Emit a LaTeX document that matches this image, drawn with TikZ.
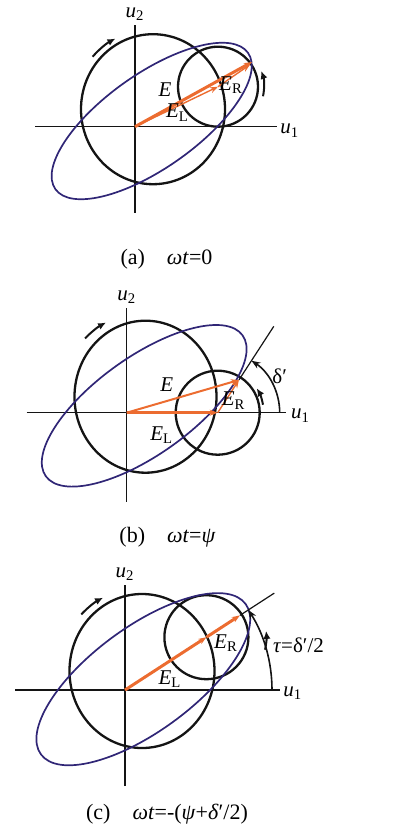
\documentclass[tikz,border=0pt]{standalone}
\usepackage{fontspec}
\setmainfont{Liberation Serif}
\usetikzlibrary{arrows.meta,positioning,calc}
\definecolor{navy}{RGB}{48,38,118}
\definecolor{tangerine}{RGB}{236,108,48}
\definecolor{ink}{RGB}{20,20,20}
\tikzset{
  >={Stealth[length=4pt,width=3pt]},
  axis line/.style={draw=ink,line width=0.75pt},
  ring/.style={draw=ink,line width=1.15pt},
  trace/.style={draw=navy,line width=0.85pt},
  vec/.style={->,draw=tangerine,line width=#1},
  vec/.default=0.7pt,
  spin/.style={-{Latex[length=4pt,width=3.6pt]},draw=ink,line width=1pt},
  sweep/.style={-{Stealth[length=4.5pt,width=3.4pt]},draw=ink,line width=0.8pt},
  tag/.style={font=\fontsize{10.5}{12}\selectfont,inner sep=0pt},
  subcap/.style={font=\fontsize{11}{13}\selectfont,inner sep=0pt},
}

\begin{document}
\begin{tikzpicture}[x=0.5pt,y=0.5pt]
  \useasboundingbox (0,0) rectangle (397,-829);

  % (a) omega t = 0
  \begin{scope}[shift={(135,-126.7)}]
    \coordinate (Oa) at (0,0);
    \coordinate (La) at (83,40);
    \coordinate (Pa) at (117,64.7);
    \coordinate (Ra) at (115,62);
    \draw[axis line] (-100,0) coordinate (a-w) -- (142,0) coordinate (a-e);
    \draw[axis line] (0,-86) coordinate (a-s) -- (0,102) coordinate (a-n);
    \node[tag,anchor=west] (a-u1) at ($(a-e)+(3,-4)$) {\textit{u}\textsubscript{1}};
    \node[tag,above=2pt of a-n] (a-u2) {\textit{u}\textsubscript{2}};
    \draw[ring] (18,17.5) ellipse[x radius=72,y radius=75];
    \draw[ring] (La) circle[radius=40];
    \draw[trace,rotate around={35.3:(16.7,5.7)}] (16.7,5.7) ellipse[x radius=118,y radius=47];
    \draw[vec=1.5pt] (Oa) -- (Pa);
    \draw[vec] (Oa) -- (La);
    \draw[vec] (La) -- (Ra);
    \draw[spin] ($(18,17.5)+(139:80)$) arc[start angle=139,end angle=118,radius=80];
    \draw[spin] ($(La)+(-12:46)$) arc[start angle=-12,end angle=20,radius=46];
    \node[tag] (a-E) at (30,36.7) {\textit{E}};
    \node[tag] (a-EL) at (42.5,14) {\textit{E}\textsubscript{L}};
    \node[tag] (a-ER) at (96,41.5) {\textit{E}\textsubscript{R}};
  \end{scope}

  % (b) omega t = psi
  \begin{scope}[shift={(126.7,-412.7)}]
    \coordinate (Ob) at (0,0);
    \coordinate (Lb) at (91,0);
    \coordinate (Pb) at (112.2,32.7);
    \coordinate (Db) at (147.1,86.4);
    \draw[axis line] (-100,0) coordinate (b-w) -- (159,0) coordinate (b-e);
    \draw[axis line] (0,-89) coordinate (b-s) -- (0,105) coordinate (b-n);
    \node[tag,anchor=west] (b-u1) at ($(b-e)+(5,-3)$) {\textit{u}\textsubscript{1}};
    \node[tag,above=2pt of b-n] (b-u2) {\textit{u}\textsubscript{2}};
    \draw[ring] (18.8,16) ellipse[x radius=71,y radius=76];
    \draw[ring] (Lb) circle[radius=42];
    \draw[trace,rotate around={35.6:(17.5,6.9)}] (17.5,6.9) ellipse[x radius=121,y radius=48.7];
    \draw[vec=1pt] (Ob) -- (Pb);
    \draw[vec=1.6pt] (Ob) -- (Lb);
    \draw[vec] (Lb) -- (Pb);
    \draw[axis line,line width=0.6pt] (Pb) -- (Db);
    \draw[sweep] ($(Lb)+(0:62)$) arc[start angle=0,end angle=57,radius=62];
    \draw[spin] ($(18.8,16)+(136:84)$) arc[start angle=136,end angle=118,radius=84];
    \draw[spin] ($(Lb)+(10:46)$) arc[start angle=10,end angle=32,radius=46];
    \node[tag] (b-E) at (40,27.7) {\textit{E}};
    \node[tag] (b-EL) at (35,-22.3) {\textit{E}\textsubscript{L}};
    \node[tag] (b-ER) at (107,12) {\textit{E}\textsubscript{R}};
    \node[tag] (b-d) at (153,36) {δ′};
  \end{scope}

  % (c) omega t = -(psi + delta'/2)
  \begin{scope}[shift={(125,-690)}]
    \coordinate (Oc) at (0,0);
    \coordinate (Lc) at (81.4,52.8);
    \coordinate (Pc) at (114.9,74.6);
    \coordinate (Tc) at (149.3,96.9);
    \draw[axis line] (-110,0) coordinate (c-w) -- (155,0) coordinate (c-e);
    \draw[axis line] (0,-96) coordinate (c-s) -- (0,105) coordinate (c-n);
    \node[tag,anchor=west] (c-u1) at ($(c-e)+(3,-3)$) {\textit{u}\textsubscript{1}};
    \node[tag,above=2pt of c-n] (c-u2) {\textit{u}\textsubscript{2}};
    \draw[ring] (17,19) ellipse[x radius=72.5,y radius=77];
    \draw[ring] (Lc) circle[radius=42];
    \draw[trace,rotate around={36.3:(18.3,10.8)}] (18.3,10.8) ellipse[x radius=127,y radius=52];
    \draw[vec=1.5pt] (Oc) -- (Lc);
    \draw[vec=1.5pt] (Lc) -- (Pc);
    \draw[axis line,line width=0.6pt] (Pc) -- (Tc);
    \draw[sweep] (147,0) arc[start angle=0,end angle=33,radius=147];
    \draw[spin] ($(17,19)+(137:83)$) arc[start angle=137,end angle=118,radius=83];
    \draw[spin] ($(Lc)+(-12:60)$) arc[start angle=-12,end angle=6,radius=60];
    \node[tag] (c-EL) at (45,11) {\textit{E}\textsubscript{L}};
    \node[tag] (c-ER) at (101,47) {\textit{E}\textsubscript{R}};
    \node[tag] (c-t) at (173.5,45) {\textit{τ}=δ′/2};
  \end{scope}

  % captions
  \node[subcap] (capa) at (166.5,-259) {(a)\quad \textit{ωt}=0};
  \node[subcap] (capb) at (167.5,-537) {(b)\quad \textit{ωt}=\textit{ψ}};
  \node[subcap] (capc) at (167,-814) {(c)\quad \textit{ωt}=-(\textit{ψ}+\textit{δ}′/2)};
\end{tikzpicture}
\end{document}
